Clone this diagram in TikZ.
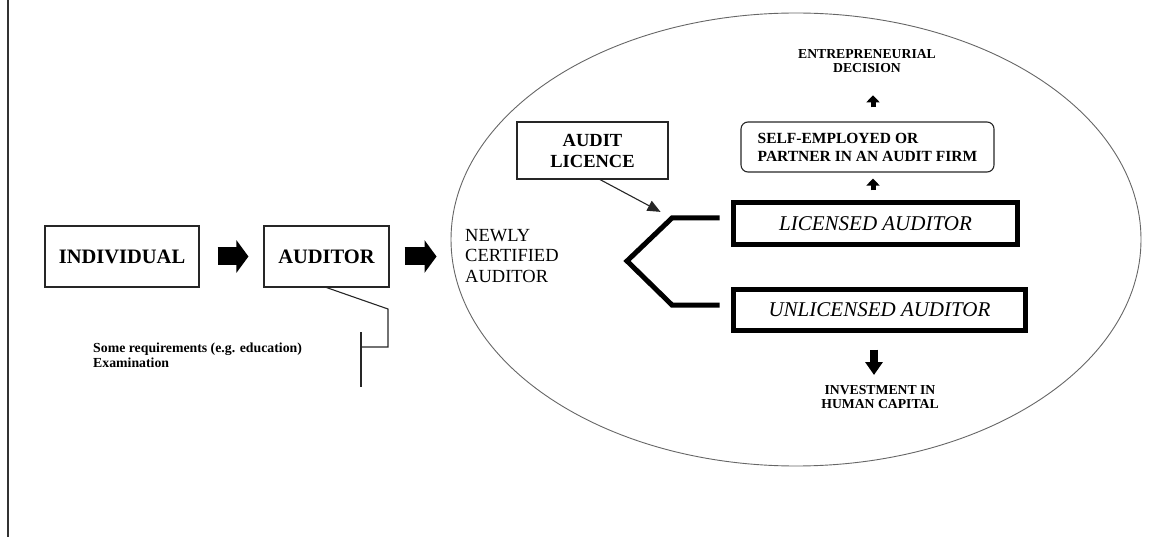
\documentclass[tikz,border=0pt]{standalone}
\usepackage{fontspec}
\setmainfont{Liberation Serif}
\usetikzlibrary{arrows.meta,positioning,shapes.geometric}

\begin{document}
\begin{tikzpicture}[x=1pt,y=-1pt,on grid,
    box/.style={draw=black!85,line width=1.1pt,inner sep=0pt,
      font=\fontsize{20.5}{23}\selectfont\bfseries},
    status/.style={draw,line width=5pt,inner sep=0pt,
      font=\fontsize{21}{24}\selectfont\itshape},
    note/.style={inner sep=0pt,align=center,
      font=\fontsize{13.7}{14.2}\selectfont\bfseries},
    fat/.style={line width=18pt,-{Triangle[length=12pt,width=32pt]}},
    small up/.style={line width=5pt,-{Triangle[length=7pt,width=13pt]}},
    thin line/.style={draw=black!85,line width=1.1pt}]
    \useasboundingbox (0,0) rectangle (1164,537);
    \draw[black!80,line width=1.5pt] (8,0) -- (8,537);

    % left part
    \node[box,minimum width=154,minimum height=61] (ind) at (122,256.5) {INDIVIDUAL};
    \node[box,minimum width=125,minimum height=61] (aud) [right=204.5pt of ind] {AUDITOR};
    \node[anchor=north west,inner sep=0pt,align=left,
      font=\fontsize{13.8}{15}\selectfont\bfseries] (req) at (93,342.5)
      {Some requirements (e.g. education)\\Examination};

    % newly certified auditor
    \node[draw=black!60,line width=0.9pt,ellipse,inner sep=0pt,
      minimum width=690,minimum height=453] (stage) at (796,239.5) {};
    \node[anchor=north west,inner sep=0pt,align=left,
      font=\fontsize{18.5}{20.5}\selectfont] (newly) at (465,229) {NEWLY\\CERTIFIED\\AUDITOR};
    \node[box,font=\fontsize{18.5}{21}\selectfont\bfseries,align=center,
      minimum width=151,minimum height=57] (licence) at (592.5,150.5) {AUDIT\\LICENCE};
    \node[status,minimum width=284,minimum height=42] (lic) at (875.5,223.5) {LICENSED AUDITOR};
    \node[status,minimum width=292,minimum height=41] (unl) [below=86.5pt of lic,xshift=4pt] {UNLICENSED AUDITOR};
    \node[box,rounded corners=7pt,font=\fontsize{15.5}{18}\selectfont\bfseries,align=left,
      minimum width=253,minimum height=50] (self) at (867.5,147)
      {SELF-EMPLOYED OR\\PARTNER IN AN AUDIT FIRM};
    \node[note,anchor=north] (ent) at (867,49.5) {ENTREPRENEURIAL\\DECISION};
    \node[note,anchor=north] (inv) at (880,385) {INVESTMENT IN\\HUMAN CAPITAL};

    \coordinate (brtop) at (672,218);
    \coordinate (apex)  at (627,261);
    \coordinate (brbot) at (672,305);
    \coordinate (c1) at (388,309);
    \coordinate (c2) at (388,347);
    \coordinate (hook) at (361,347);
    \coordinate (htop) at (361,332);
    \coordinate (hbot) at (361,387);

    % connectors
    \draw[fat,shorten <=18pt,shorten >=15pt] (ind.east) -- (aud.west);
    \draw[fat,shorten <=15pt,shorten >=14pt] (aud.east) -- (aud.east -| stage.west);
    \draw[thin line] (aud.south) -- (c1) -- (c2) -- (hook);
    \draw[thin line] (htop) -- (hbot);
    \draw[line width=5pt] ([xshift=-11.5pt,yshift=5.5pt]lic.west) -- (brtop) -- (apex)
      -- (brbot) -- ([xshift=-11.5pt,yshift=5pt]unl.west);
    \draw[thin line,-{Triangle[length=13pt,width=11pt]},shorten >=13pt]
      ([xshift=7.5pt]licence.south) -- (brtop);
    \draw[small up,shorten <=9.5pt,shorten >=6pt] (lic.north -| 873,0) -- (self.south -| 873,0);
    \draw[small up,shorten <=14pt,shorten >=22pt] (self.north -| 873,0) -- (ent.south -| 873,0);
    \draw[line width=8pt,-{Triangle[length=13pt,width=17pt]},shorten <=16.5pt,shorten >=10pt]
      (unl.south -| 874,0) -- (inv.north -| 874,0);
\end{tikzpicture}
\end{document}
